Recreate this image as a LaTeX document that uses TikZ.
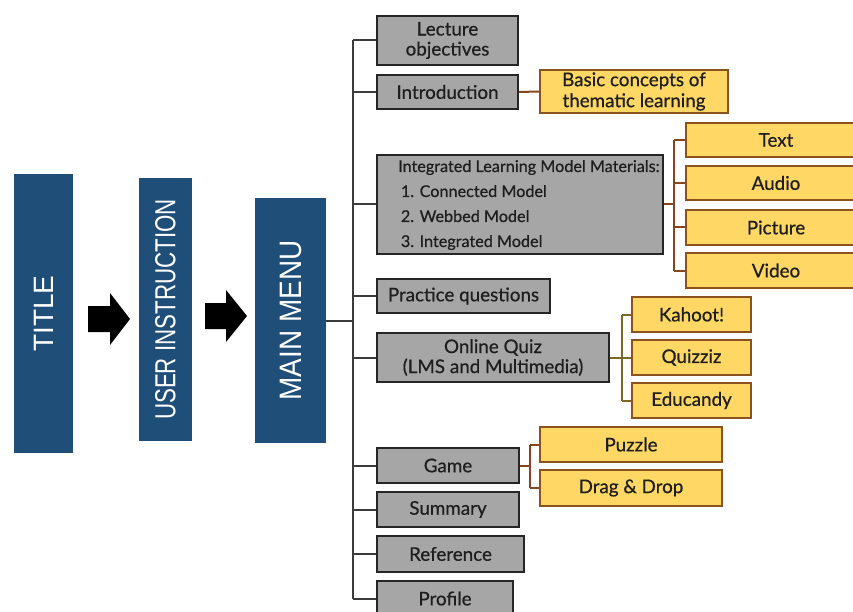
\documentclass[tikz,border=0pt]{standalone}
\usepackage{fontspec}
\setmainfont{Lato}[FakeBold=0.6]
\newfontfamily\blufont{Liberation Sans}
\definecolor{bluebox}{RGB}{31,78,121}
\definecolor{grayfill}{RGB}{166,166,166}
\definecolor{grayline}{RGB}{38,38,38}
\definecolor{yelfill}{RGB}{255,215,100}
\definecolor{yelline}{RGB}{140,82,30}
\definecolor{brownconn}{RGB}{135,70,30}
\definecolor{oliveconn}{RGB}{125,105,35}
\definecolor{txt}{RGB}{30,30,30}
\tikzset{
  bluenode/.style={fill=bluebox, draw=none, rotate=90, text=white, inner sep=0pt},
  graybox/.style={fill=grayfill, draw=grayline, line width=1.8pt, inner sep=0pt, align=center, text=txt, font=\fontsize{18.8}{20}\selectfont},
  yelbox/.style={fill=yelfill, draw=yelline, line width=1.8pt, inner sep=0pt, align=center, text=txt, font=\fontsize{18.8}{21}\selectfont},
  trunkline/.style={draw=grayline!90, line width=2pt},
  brownline/.style={draw=brownconn, line width=2pt},
  oliveline/.style={draw=oliveconn, line width=2pt},
}
\begin{document}
\begin{tikzpicture}[x=1pt,y=-1pt]
\useasboundingbox (0,0) rectangle (853,612);
% blue boxes
\node[bluenode, minimum width=279, minimum height=59, font=\blufont\fontsize{28}{30}\selectfont] (title) at (43.5,313.5) {TITLE};
\node[bluenode, minimum width=263, minimum height=53, font=\blufont\fontsize{29}{30}\selectfont] (user) at (165.5,309.5) {\scalebox{0.77}[1]{USER INSTRUCTION}};
\node[bluenode, minimum width=245, minimum height=71, font=\blufont\fontsize{31}{32}\selectfont] (main) at (290.5,320.5) {\scalebox{0.9}[1]{MAIN MENU}};
% block arrows
\fill[black] (88,306) -- (110,306) -- (110,293) -- (130,319) -- (110,345) -- (110,332) -- (88,332) -- cycle;
\fill[black] (205,303) -- (226,303) -- (226,290) -- (247,316) -- (226,342) -- (226,329) -- (205,329) -- cycle;
% gray boxes
\node[graybox, minimum width=141, minimum height=49] (lo) at (447.5,40.5) {Lecture\\objectives};
\node[graybox, minimum width=141, minimum height=34] (intro) at (447.5,92) {Introduction};
\node[graybox, minimum width=286, minimum height=99] (ilm) at (520,204.5) {};
\node[anchor=west, align=left, text=txt, font=\fontsize{16.2}{25}\selectfont, inner sep=0pt] (ilmtext) at (398,205)
  {Integrated Learning Model Materials:\\\,1. Connected Model\\\,2. Webbed Model\\\,3. Integrated Model};
\node[graybox, minimum width=173, minimum height=34] (pq) at (463.5,296) {Practice questions};
\node[graybox, minimum width=232, minimum height=49] (oq) at (493,357.5) {Online Quiz\\(LMS and Multimedia)};
\node[graybox, minimum width=142, minimum height=35] (game) at (448,465.5) {Game};
\node[graybox, minimum width=142, minimum height=35] (sum) at (448,509.5) {Summary};
\node[graybox, minimum width=147, minimum height=36] (ref) at (450.5,554) {Reference};
\node[graybox, minimum width=136, minimum height=35] (prof) at (445,598.5) {Profile};
% yellow boxes
\node[yelbox, minimum width=188, minimum height=43] (basic) at (634,91.5) {Basic concepts of\\thematic learning};
\node[yelbox, minimum width=180, minimum height=34] (text) at (776,140) {Text};
\node[yelbox, minimum width=180, minimum height=34] (audio) at (776,183) {Audio};
\node[yelbox, minimum width=180, minimum height=35] (pic) at (776,227.5) {Picture};
\node[yelbox, minimum width=180, minimum height=35] (video) at (776,270.5) {Video};
\node[yelbox, minimum width=119, minimum height=35] (kahoot) at (691.5,314.5) {Kahoot!};
\node[yelbox, minimum width=119, minimum height=35] (quizziz) at (691.5,357.5) {Quizziz};
\node[yelbox, minimum width=119, minimum height=35] (educandy) at (691.5,400.5) {Educandy};
\node[yelbox, minimum width=182, minimum height=35] (puzzle) at (631,444.5) {Puzzle};
\node[yelbox, minimum width=182, minimum height=36] (drag) at (631,488) {Drag \& Drop};
% trunk connectors
\coordinate (tk) at (353,0);
\draw[trunkline] (main.south) -- (main.south -| tk);
\draw[trunkline] (lo.west -| tk) -- (prof.west -| tk);
\foreach \n in {lo,intro,ilm,pq,oq,game,sum,ref,prof}
  \draw[trunkline] (\n.west -| tk) -- (\n.west);
% introduction
\draw[brownline] (intro.east) -- (basic.west);
% integrated model branches
\coordinate (s1) at (674,0);
\draw[brownline] (ilm.east) -- (ilm.east -| s1);
\draw[brownline] (text.west -| s1) -- (video.west -| s1);
\foreach \n in {text,audio,pic,video}
  \draw[brownline] (\n.west -| s1) -- (\n.west);
% online quiz branches
\coordinate (s2) at (622,0);
\draw[oliveline] (oq.east) -- (oq.east -| s2);
\draw[oliveline] (kahoot.west -| s2) -- (educandy.west -| s2);
\foreach \n in {kahoot,quizziz,educandy}
  \draw[oliveline] (\n.west -| s2) -- (\n.west);
% game branches
\coordinate (s3) at (530,0);
\draw[brownline] (game.east) -- (game.east -| s3);
\draw[brownline] (puzzle.west -| s3) -- (drag.west -| s3);
\foreach \n in {puzzle,drag}
  \draw[brownline] (\n.west -| s3) -- (\n.west);
\end{tikzpicture}
\end{document}
